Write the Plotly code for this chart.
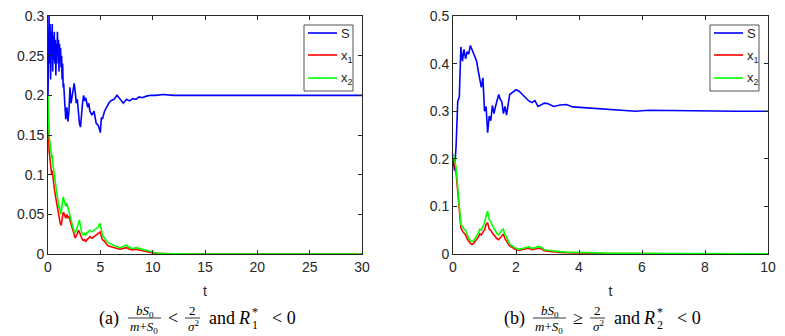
import plotly.graph_objects as go

# ---- data ----
t_a = [0, 0.05, 0.1, 0.15, 0.2, 0.25, 0.3, 0.35, 0.4, 0.45,
       0.5, 0.55, 0.6, 0.65, 0.7, 0.75, 0.8, 0.85, 0.9, 0.95,
       1.0, 1.05, 1.1, 1.15, 1.2, 1.25, 1.3, 1.35, 1.4, 1.45, 1.5,
       1.6, 1.7, 1.8, 1.9, 2.0, 2.1, 2.2, 2.3, 2.4, 2.5,
       2.6, 2.7, 2.8, 2.9, 3.0, 3.1, 3.2, 3.3, 3.4, 3.5,
       3.6, 3.7, 3.8, 3.9, 4.0, 4.2, 4.4, 4.6, 4.8,
       4.9, 5.0, 5.1, 5.2, 5.4, 5.6, 5.8, 6.0,
       6.3, 6.6, 6.9, 7.2, 7.5, 7.8, 8.1, 8.4, 8.7, 9.0,
       9.4, 9.8, 10.3, 11, 12, 14, 17, 20, 25, 30]
S_a = [0.20, 0.27, 0.30, 0.24, 0.29, 0.22, 0.28, 0.25, 0.29, 0.23,
       0.275, 0.245, 0.28, 0.24, 0.27, 0.225, 0.265, 0.24, 0.28, 0.25,
       0.27, 0.23, 0.265, 0.245, 0.26, 0.235, 0.25, 0.22, 0.24, 0.21, 0.215,
       0.19, 0.17, 0.185, 0.167, 0.18, 0.21, 0.19, 0.2, 0.205, 0.215,
       0.205, 0.19, 0.195, 0.175, 0.165, 0.16, 0.18, 0.19, 0.2, 0.193,
       0.197, 0.19, 0.185, 0.19, 0.18, 0.175, 0.18, 0.165, 0.162,
       0.158, 0.153, 0.172, 0.17, 0.18, 0.185, 0.19, 0.193,
       0.195, 0.2, 0.195, 0.19, 0.195, 0.193, 0.196, 0.195, 0.198, 0.197,
       0.199, 0.2, 0.2, 0.201, 0.2, 0.2, 0.2, 0.2, 0.2, 0.2]
x1_a = [0.19, 0.142, 0.13, 0.125, 0.118, 0.11, 0.108, 0.1, 0.105, 0.098,
        0.094, 0.088, 0.085, 0.078, 0.074, 0.07, 0.066, 0.06, 0.056, 0.052,
        0.048, 0.045, 0.042, 0.04, 0.038, 0.036, 0.04, 0.044, 0.05, 0.052, 0.052,
        0.048, 0.045, 0.05, 0.046, 0.047, 0.042, 0.038, 0.032, 0.027, 0.022,
        0.02, 0.023, 0.025, 0.03, 0.028, 0.024, 0.02, 0.018, 0.017, 0.018,
        0.016, 0.018, 0.019, 0.02, 0.022, 0.02, 0.022, 0.024, 0.025,
        0.026, 0.028, 0.022, 0.018, 0.016, 0.012, 0.01, 0.009,
        0.008, 0.007, 0.006, 0.007, 0.008, 0.006, 0.005, 0.006, 0.005, 0.004,
        0.003, 0.002, 0.001, 0.0005, 0.0002, 0, 0, 0, 0, 0]
x2_a = [0.2, 0.16, 0.15, 0.145, 0.135, 0.13, 0.128, 0.12, 0.125, 0.115,
        0.112, 0.105, 0.1, 0.095, 0.09, 0.085, 0.08, 0.075, 0.07, 0.066,
        0.062, 0.058, 0.06, 0.055, 0.05, 0.052, 0.056, 0.06, 0.068, 0.072, 0.07,
        0.066, 0.06, 0.064, 0.058, 0.055, 0.05, 0.043, 0.038, 0.033, 0.028,
        0.027, 0.03, 0.033, 0.038, 0.043, 0.035, 0.028, 0.025, 0.024, 0.026,
        0.024, 0.026, 0.027, 0.028, 0.03, 0.028, 0.03, 0.032, 0.034,
        0.037, 0.038, 0.03, 0.024, 0.02, 0.016, 0.014, 0.0125,
        0.011, 0.009, 0.008, 0.01, 0.011, 0.008, 0.007, 0.008, 0.007, 0.006,
        0.004, 0.003, 0.0015, 0.0007, 0.0003, 0, 0, 0, 0, 0]

t_b = [0, 0.05, 0.1, 0.15, 0.2, 0.25, 0.3, 0.35, 0.4, 0.45,
       0.5, 0.55, 0.6, 0.65, 0.7, 0.75, 0.8, 0.85, 0.9, 0.95,
       1.0, 1.05, 1.1, 1.15, 1.2, 1.25, 1.3, 1.35, 1.4, 1.45,
       1.5, 1.55, 1.6, 1.65, 1.7, 1.75, 1.8,
       1.9, 2.0, 2.1, 2.2, 2.3, 2.4, 2.5, 2.6, 2.7, 2.8, 2.9, 3.0,
       3.2, 3.4, 3.6, 3.8, 4.0,
       4.3, 4.6, 5.0, 5.4, 5.8, 6.2,
       7, 8, 9, 10]
S_b = [0.2, 0.175, 0.23, 0.32, 0.33, 0.435, 0.405, 0.43, 0.41, 0.425,
       0.42, 0.438, 0.43, 0.42, 0.41, 0.405, 0.385, 0.37, 0.35, 0.37,
       0.3, 0.31, 0.255, 0.29, 0.28, 0.312, 0.295, 0.31, 0.325, 0.335,
       0.325, 0.32, 0.295, 0.31, 0.292, 0.32, 0.335,
       0.34, 0.345, 0.342, 0.335, 0.328, 0.322, 0.318, 0.322, 0.31, 0.314, 0.317, 0.316,
       0.31, 0.313, 0.314, 0.309, 0.308,
       0.306, 0.305, 0.303, 0.302, 0.3, 0.302,
       0.301, 0.3, 0.3, 0.3]
x1_b = [0.2, 0.19, 0.17, 0.13, 0.085, 0.055, 0.048, 0.045, 0.04, 0.032,
        0.026, 0.022, 0.02, 0.022, 0.026, 0.03, 0.035, 0.042, 0.04, 0.046,
        0.05, 0.062, 0.066, 0.052, 0.05, 0.044, 0.04, 0.035, 0.032, 0.03,
        0.034, 0.038, 0.042, 0.032, 0.028, 0.022, 0.017,
        0.013, 0.009, 0.008, 0.009, 0.01, 0.012, 0.009, 0.01, 0.012, 0.011, 0.007, 0.006,
        0.004, 0.003, 0.0025, 0.002, 0.0018,
        0.0015, 0.0012, 0.001, 0.0008, 0.0007, 0.0005,
        0.0003, 0.0002, 0.0001, 0.0001]
x2_b = [0.21, 0.2, 0.18, 0.14, 0.095, 0.062, 0.058, 0.052, 0.05, 0.04,
        0.033, 0.028, 0.026, 0.028, 0.032, 0.038, 0.044, 0.052, 0.05, 0.058,
        0.065, 0.08, 0.09, 0.072, 0.068, 0.06, 0.054, 0.047, 0.042, 0.04,
        0.045, 0.05, 0.052, 0.04, 0.036, 0.028, 0.021,
        0.016, 0.012, 0.01, 0.011, 0.013, 0.015, 0.012, 0.013, 0.016, 0.014, 0.009, 0.008,
        0.006, 0.005, 0.004, 0.0035, 0.003,
        0.0025, 0.002, 0.0017, 0.0014, 0.0012, 0.001,
        0.0006, 0.0004, 0.0003, 0.0002]

series_names = ["S", "x<sub>1</sub>", "x<sub>2</sub>"]
series_colors = ["#0000ff", "#ff0000", "#00ff00"]

# the page body keeps its default 8px margin, so the figure is drawn 8px in
OFF = 8
W, H = 785 - OFF, 336 - OFF
INK = "#262626"


def px(x):
    return (x - OFF) / W


def py(y):
    return 1 - (y - OFF) / H


fig = go.Figure()

panels = [
    (t_a, [S_a, x1_a, x2_a], "x", "y"),
    (t_b, [S_b, x1_b, x2_b], "x2", "y2"),
]
for t, ys, xa, ya in panels:
    for name, col, vals in zip(series_names, series_colors, ys):
        fig.add_trace(go.Scatter(x=t, y=vals, name=name, mode="lines",
                                 line=dict(color=col, width=1.6),
                                 xaxis=xa, yaxis=ya, showlegend=False))

axis_style = dict(showline=True, linecolor=INK, linewidth=0.8, mirror="ticks",
                  ticks="inside", ticklen=4, tickcolor=INK, showgrid=False,
                  zeroline=False, automargin=False, ticklabeloverflow="allow",
                  tickfont=dict(family="Liberation Sans", size=14, color=INK))
title_t = dict(text="t", font=dict(family="Liberation Sans", size=14, color=INK), standoff=12)

fig.update_layout(
    width=W, height=H, autosize=False,
    margin=dict(l=0, r=0, t=0, b=0, pad=0),
    plot_bgcolor="white", paper_bgcolor="white",
    xaxis=dict(domain=[px(48), px(362)], range=[0, 30], tickvals=[0, 5, 10, 15, 20, 25, 30],
               anchor="y", title=title_t, **axis_style),
    yaxis=dict(domain=[py(254), py(16)], range=[0, 0.3],
               tickvals=[0, 0.05, 0.1, 0.15, 0.2, 0.25, 0.3], anchor="x", **axis_style),
    xaxis2=dict(domain=[px(453), px(768)], range=[0, 10], tickvals=[0, 2, 4, 6, 8, 10],
                anchor="y2", title=title_t, **axis_style),
    yaxis2=dict(domain=[py(254), py(16)], range=[0, 0.5],
                tickvals=[0, 0.1, 0.2, 0.3, 0.4, 0.5], anchor="x2", **axis_style),
)

# ---- MATLAB-style legend boxes in the top-right corner of each panel ----
for x0 in (304, 710):
    fig.add_shape(type="rect", xref="paper", yref="paper",
                  x0=px(x0), x1=px(x0 + 49), y0=py(25), y1=py(91),
                  line=dict(color=INK, width=0.8), fillcolor="white", layer="above")
    for name, col, yy in zip(series_names, series_colors, (33, 55, 78)):
        fig.add_shape(type="line", xref="paper", yref="paper",
                      x0=px(x0 + 4), x1=px(x0 + 33), y0=py(yy), y1=py(yy),
                      line=dict(color=col, width=1.6), layer="above")
        fig.add_annotation(text=name, x=px(x0 + 35), y=py(yy + 1), xref="paper", yref="paper",
                           xanchor="left", yanchor="middle", showarrow=False,
                           font=dict(family="Liberation Sans", size=13, color=INK))

# ---- captions below each panel (stacked fractions built from pieces) ----
serif = "Liberation Serif"
pieces = [
    ("{tag}", 109, 318, 18),
    ("<i>bS</i><sub>0</sub>", 145, 311, 13),
    ("<i>m</i>+<i>S</i><sub>0</sub>", 144, 327, 13),
    ("{rel}", 173, 318, 18),
    ("2", 192, 310, 13),
    ("<i>σ</i><sup>2</sup>", 193, 326, 13),
    ("and", 222, 318, 18),
    ("<i>R</i>", 244, 318, 18),
    ("*", 255, 312, 12),
    ("{idx}", 255, 325, 12),
    ("&lt; 0", 284, 318, 18),
]
captions = [(0, "(a)", "&lt;", "1"), (405, "(b)", "≥", "2")]
for dx, tag, rel, idx in captions:
    for text, x, y, size in pieces:
        fig.add_annotation(text=text.format(tag=tag, rel=rel, idx=idx),
                           x=px(x + dx), y=py(y), xref="paper", yref="paper",
                           xanchor="center", yanchor="middle", showarrow=False,
                           font=dict(family=serif, size=size, color="black"))
    fig.add_shape(type="line", xref="paper", yref="paper",
                  x0=px(128 + dx), x1=px(161 + dx), y0=py(318), y1=py(318),
                  line=dict(color="black", width=0.8))
    fig.add_shape(type="line", xref="paper", yref="paper",
                  x0=px(185 + dx), x1=px(200 + dx), y0=py(318), y1=py(318),
                  line=dict(color="black", width=0.8))

fig.write_html("out.html")
